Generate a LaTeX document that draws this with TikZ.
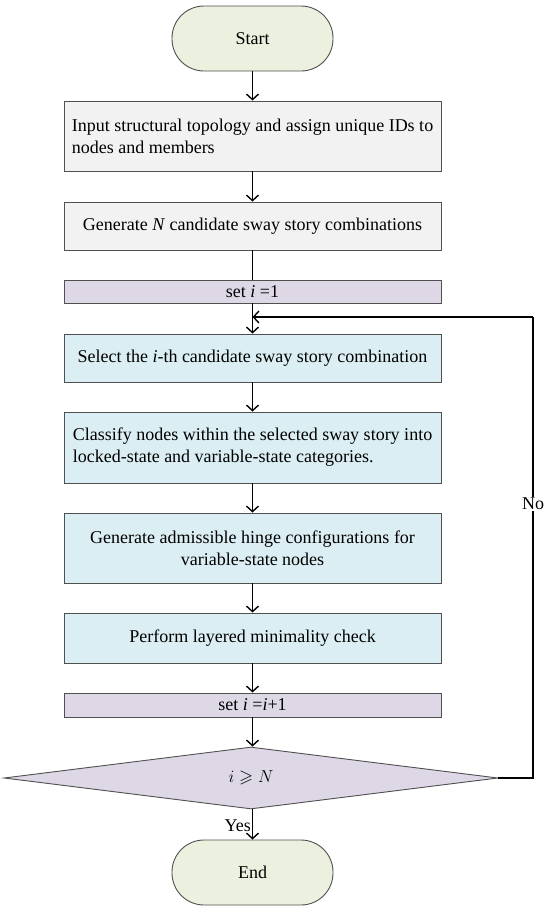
\documentclass[tikz,border=0pt]{standalone}
\usepackage{fontspec}
\usepackage{amssymb}
\setmainfont{Liberation Serif}
\usetikzlibrary{arrows.meta,shapes.geometric}
\definecolor{termfill}{HTML}{EBF1DE}
\definecolor{grayfill}{HTML}{F2F2F2}
\definecolor{purpfill}{HTML}{DDD7E6}
\definecolor{bluefill}{HTML}{DBEEF3}
\definecolor{edgegray}{HTML}{505050}
\tikzset{
  base/.style={draw=edgegray, line width=0.9pt, font=\fontsize{18}{22}\selectfont, inner sep=2pt, text=black},
  term/.style={base, fill=termfill, minimum width=161pt, minimum height=65pt, rounded corners=32pt},
  graybox/.style={base, fill=grayfill, minimum width=377pt},
  purpbox/.style={base, fill=purpfill, minimum width=377pt},
  bluebox/.style={base, fill=bluefill, minimum width=377pt},
  decis/.style={base, fill=purpfill, shape=diamond, minimum width=494pt, minimum height=62pt, aspect=8, inner sep=0pt},
  flow/.style={line width=1.4pt, -{Straight Barb[length=5.5pt,width=12pt,line width=1.4pt]}},
  plain/.style={line width=1.4pt},
  lbl/.style={font=\fontsize{18}{22}\selectfont}
}
\begin{document}
\begin{tikzpicture}[x=1pt,y=-1pt]
\useasboundingbox (0,0) rectangle (550,913);
\node[term] (start) at (252.5,38.5) {Start};
\node[graybox, minimum height=70pt, align=left] (input) at (252.5,136) {Input structural topology and assign unique IDs to\\nodes and members};
\node[graybox, minimum height=48pt] (gen) at (252.5,226) {Generate \textit{N} candidate sway story combinations};
\node[purpbox, minimum height=23pt, inner sep=0pt] (set1) at (252.5,291.5) {set \textit{i} =1};
\node[bluebox, minimum height=48pt] (sel) at (252.5,358) {Select the \textit{i}-th candidate sway story combination};
\node[bluebox, minimum height=71pt, align=left] (cls) at (252.5,447.5) {Classify nodes within the selected sway story into\\locked-state and variable-state categories.};
\node[bluebox, minimum height=70pt, align=center] (hinge) at (252.5,548) {Generate admissible hinge configurations for\\variable-state nodes};
\node[bluebox, minimum height=50pt] (perf) at (252.5,638) {Perform layered minimality check};
\node[purpbox, minimum height=24pt, inner sep=0pt] (set2) at (252.5,705) {set \textit{i} =\textit{i}+1};
\node[decis] (dec) at (251,778) {$i \geqslant N$};
\node[term] (end) at (252.5,872.5) {End};
\coordinate (c1) at (533,778);
\coordinate (c2) at (533,317);
\coordinate (c3) at (252.5,317);
\draw[flow] (start) -- (input);
\draw[flow] (input) -- (gen);
\draw[plain] (gen) -- (set1);
\draw[flow] (set1) -- (sel);
\draw[flow] (sel) -- (cls);
\draw[flow] (cls) -- (hinge);
\draw[flow] (hinge) -- (perf);
\draw[flow] (perf) -- (set2);
\draw[flow] (set2.south) -- (set2.south |- dec.north);
\draw[flow] (dec.south -| end.north) -- node[lbl, left, pos=0.55, inner sep=1pt] (yes) {Yes} (end);
\draw[plain] (dec.east) -- (c1) -- node[lbl, fill=white, pos=0.595, inner sep=1pt] (no) {No} (c2);
\draw[flow] (c2) -- (c3);
\end{tikzpicture}
\end{document}
